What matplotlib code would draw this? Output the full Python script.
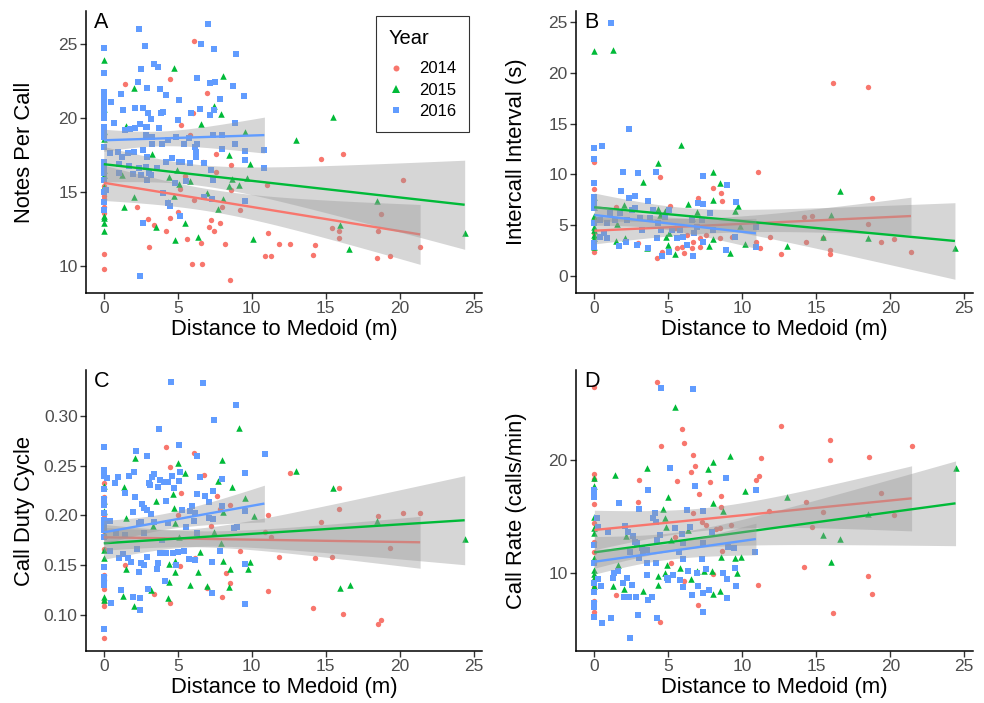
import matplotlib
matplotlib.use('Agg')
import matplotlib.pyplot as plt
from matplotlib.lines import Line2D
import numpy as np

plt.rcParams['font.family'] = ['Liberation Sans', 'DejaVu Sans']

years = ['2014', '2015', '2016']
colors = {'2014': '#F8766D', '2015': '#00BA38', '2016': '#619CFF'}
markers = {'2014': 'o', '2015': '^', '2016': 's'}
msize = {'2014': 15, '2015': 22, '2016': 14}

# ---- panel A: notes per call (distance, value)
a_2014 = [(0, 10.77), (0, 9.8), (0, 14.72), (0, 14.5), (0, 13.95), (0, 13.54), (0, 18.85), (0, 15.4),
          (1.42, 22.3), (4.45, 22.66), (6.09, 25.24), (6.97, 21.7), (6.02, 20.36), (5.21, 19.55),
          (5.84, 18.85), (7.55, 17.58), (6.72, 17.0), (7.6, 16.37), (8.58, 16.82), (5.46, 16.1),
          (5.17, 15.2), (8.6, 15.12), (8.02, 14.0), (9.21, 13.77), (6.09, 14.42), (2.22, 14.0),
          (2.97, 13.14), (3.37, 12.75), (4.45, 13.25), (4.99, 13.61), (4.2, 12.35), (3.03, 11.26),
          (5.64, 11.83), (6.54, 11.56), (7.1, 12.64), (7.24, 13.07), (7.48, 12.37), (7.82, 12.89),
          (8.22, 11.44), (5.96, 10.11), (6.65, 10.09), (8.52, 9.05), (11.0, 15.5), (11.08, 12.2),
          (10.92, 10.68), (11.3, 10.63), (11.84, 11.47), (12.6, 11.44), (14.16, 10.72), (14.27, 11.4),
          (14.67, 17.25), (16.16, 17.58), (15.39, 12.57), (15.9, 12.37), (15.9, 11.85), (18.52, 12.35),
          (18.72, 13.52), (18.49, 10.5), (19.35, 10.68), (20.2, 15.8), (21.37, 11.29)]
a_2015 = [(0, 23.93), (0, 20.63), (0, 19.12), (0, 18.56), (0, 16.48), (0, 16.14), (0, 15.35), (0, 13.36),
          (0, 13.2), (0, 12.91), (0, 12.35), (2.07, 22.05), (1.51, 19.5), (1.35, 13.95), (1.24, 16.14),
          (2.02, 14.63), (3.26, 17.58), (3.55, 12.64), (4.72, 23.4), (4.4, 16.03), (4.36, 14.33),
          (4.72, 14.72), (4.83, 11.74), (4.94, 16.48), (5.1, 15.53), (5.48, 12.91), (5.84, 15.73),
          (6.36, 11.92), (6.54, 19.59), (6.97, 14.94), (7.46, 20.81), (7.91, 20.27), (8.04, 22.87),
          (7.69, 13.86), (8.04, 14.54), (8.45, 17.47), (8.49, 15.4), (8.67, 15.89), (9.15, 15.46),
          (9.51, 19.03), (9.69, 15.91), (9.89, 16.88), (10.11, 11.83), (12.97, 18.49), (15.46, 20.11),
          (15.93, 12.73), (16.58, 11.13), (18.47, 14.4), (24.38, 12.19)]
a_2016 = [(0, 24.72), (0, 23.07), (0, 21.78), (0, 21.56), (0, 21.33), (0, 20.99), (0, 20.65), (0, 20.2),
          (0, 19.98), (0, 19.41), (0, 19.07), (0, 18.74), (0, 18.06), (0, 17.04), (0, 16.7), (0, 16.25),
          (0, 15.8), (0, 15.01), (0, 14.33), (0, 13.77), (2.4, 26.07), (2.52, 23.36), (2.79, 24.88),
          (3.37, 23.7), (3.66, 23.48), (2.29, 22.42), (2.92, 22.05), (3.82, 22.0), (4.18, 21.58),
          (5.06, 21.22), (6.29, 22.75), (6.56, 25.01), (7.03, 26.41), (7.42, 24.67), (8.92, 24.36),
          (7.19, 22.39), (7.53, 22.46), (7.87, 21.33), (8.72, 22.21), (9.44, 21.51), (1.15, 21.65),
          (1.28, 20.56), (0.52, 21.08), (0.67, 19.64), (2.13, 20.72), (2.67, 20.7), (3.01, 20.32),
          (3.19, 19.95), (2.85, 19.41), (3.71, 19.3), (3.89, 20.36), (4.0, 20.4), (4.99, 19.86),
          (5.91, 20.32), (6.52, 20.59), (7.19, 20.2), (7.48, 20.54), (8.88, 19.64), (1.42, 19.19),
          (1.75, 19.23), (2.13, 19.3), (2.43, 19.59), (2.92, 19.41), (2.88, 18.85), (3.26, 18.74),
          (3.26, 18.28), (3.93, 18.28), (4.31, 18.51), (4.9, 18.74), (5.39, 18.28), (5.73, 18.62),
          (6.18, 18.06), (6.29, 18.28), (7.37, 18.85), (7.98, 18.85), (8.88, 18.22), (7.98, 17.88),
          (6.25, 17.72), (6.25, 17.38), (9.51, 17.77), (10.85, 17.83), (0.45, 17.61), (0.97, 17.72),
          (1.24, 17.38), (1.64, 17.61), (2.02, 17.72), (2.65, 17.83), (2.92, 17.38), (4.22, 17.04),
          (4.61, 17.27), (5.06, 17.04), (5.28, 17.04), (5.84, 16.93), (6.74, 16.93), (7.26, 16.48),
          (9.51, 17.16), (1.01, 16.86), (1.69, 16.75), (2.36, 16.59), (2.88, 16.7), (3.6, 16.59),
          (3.03, 16.25), (1.01, 16.3), (1.96, 16.19), (2.54, 16.14), (3.21, 16.14), (2.92, 15.8),
          (4.83, 15.58), (5.57, 15.73), (7.37, 15.8), (10.85, 16.59), (0.18, 15.12), (4.0, 14.9),
          (4.31, 14.22), (4.49, 14.06), (5.12, 13.36), (6.74, 14.67), (7.3, 14.51), (9.57, 14.38),
          (2.65, 12.91), (2.43, 9.3)]

# ---- panel B: intercall interval (s)
b_2014 = [(0, 11.26), (0, 8.54), (0, 5.53), (0, 4.22), (0, 2.42), (1.46, 6.78), (2.97, 3.24), (4.21, 1.77),
          (4.44, 9.79), (4.55, 2.42), (5.11, 6.94), (5.45, 4.71), (5.61, 2.75), (5.9, 2.91), (6.05, 2.26),
          (6.24, 4.06), (6.58, 2.75), (6.69, 3.4), (7.0, 7.73), (7.14, 3.73), (7.52, 4.06), (8.0, 8.71),
          (8.54, 8.15), (8.6, 7.43), (8.49, 3.73), (9.28, 3.9), (10.92, 3.4), (11.06, 10.28), (11.19, 2.82),
          (11.85, 3.83), (12.61, 2.19), (14.17, 5.86), (14.28, 3.34), (14.68, 5.92), (15.43, 3.8),
          (15.92, 2.59), (15.92, 2.19), (16.15, 18.95), (18.51, 18.56), (18.51, 5.11), (18.74, 7.73),
          (19.37, 3.34), (20.25, 3.7), (21.4, 2.36), (7.14, 2.91)]
b_2015 = [(0, 22.16), (1.24, 22.23), (0, 7.82), (0, 6.84), (0, 5.92), (0, 4.88), (0, 4.55), (0, 4.06),
          (0, 3.73), (0, 2.91), (1.46, 3.5), (1.51, 5.1), (2.03, 7.0), (2.07, 3.76), (3.27, 9.23),
          (3.54, 2.82), (4.32, 11.16), (4.32, 6.58), (4.44, 6.02), (4.77, 6.42), (4.84, 3.9), (5.0, 3.08),
          (5.07, 4.22), (5.45, 2.16), (5.83, 12.9), (6.35, 7.07), (6.58, 5.7), (6.96, 6.28), (7.77, 2.98),
          (8.0, 10.28), (8.0, 7.5), (8.04, 3.67), (8.49, 9.2), (9.17, 2.32), (9.5, 6.45), (9.68, 6.94),
          (9.84, 4.98), (10.18, 3.18), (13.0, 3.01), (15.47, 3.9), (15.99, 6.02), (16.6, 8.38),
          (18.51, 3.76), (24.37, 2.82)]
b_2016 = [(1.13, 24.84), (0, 12.57), (0, 11.56), (0, 9.2), (0, 7.82), (0, 7.33), (0, 6.68), (0, 5.2),
          (0, 2.91), (0, 3.24), (0.5, 12.83), (2.36, 14.44), (1.96, 10.21), (2.97, 10.18), (4.17, 10.28),
          (1.8, 8.41), (2.36, 7.66), (2.75, 7.89), (3.65, 7.4), (5.02, 6.51), (7.36, 9.85), (8.94, 8.97),
          (9.57, 7.33), (7.03, 7.17), (7.32, 7.1), (0.38, 5.53), (0.83, 5.2), (1.06, 6.19), (1.4, 5.53),
          (1.73, 6.19), (2.18, 5.53), (2.52, 6.51), (2.75, 6.68), (3.09, 5.7), (3.2, 4.55), (3.76, 5.7),
          (3.99, 6.51), (4.32, 5.2), (4.21, 3.73), (4.48, 4.55), (4.77, 5.86), (5.23, 4.55), (5.56, 3.73),
          (5.79, 4.55), (6.01, 3.9), (6.24, 3.08), (6.58, 5.53), (6.73, 4.22), (6.91, 4.88), (7.25, 5.53),
          (7.36, 3.4), (7.82, 6.25), (8.04, 4.55), (8.9, 2.59), (9.5, 3.9), (10.92, 4.88), (10.92, 2.85),
          (0.65, 4.22), (0.83, 3.73), (1.67, 2.98), (2.14, 3.37), (2.86, 3.08), (3.65, 2.75), (4.55, 2.0),
          (5.07, 2.42), (6.69, 2.03), (0.38, 3.83)]

# ---- panel C: call duty cycle
c_2014 = [(0, 0.0776), (0, 0.1093), (0, 0.1137), (0, 0.126), (0, 0.1354), (0, 0.1404), (0, 0.1664),
          (0, 0.1805), (0, 0.1955), (0, 0.2005), (0, 0.2122), (0, 0.2189), (0, 0.2322), (1.46, 0.1504),
          (3.42, 0.121), (4.22, 0.269), (4.45, 0.2489), (4.45, 0.1127), (5.01, 0.2005), (5.24, 0.2222),
          (5.17, 0.1494), (6.07, 0.2623), (6.18, 0.1571), (6.79, 0.2406), (6.97, 0.1277), (7.26, 0.1895),
          (7.64, 0.2199), (7.82, 0.2062), (8.02, 0.118), (8.27, 0.1427), (8.54, 0.1327), (8.54, 0.2105),
          (9.21, 0.1648), (10.9, 0.1838), (11.08, 0.1244), (11.08, 0.2005), (11.3, 0.1781), (11.84, 0.1588),
          (12.58, 0.2422), (14.27, 0.1578), (14.16, 0.107), (14.67, 0.1932), (15.42, 0.1588), (15.91, 0.2272),
          (15.91, 0.2062), (16.16, 0.1013), (18.52, 0.1998), (18.52, 0.091), (18.72, 0.0953), (19.35, 0.1678),
          (20.2, 0.2022), (21.37, 0.2028)]
c_2015 = [(0, 0.2296), (0, 0.2149), (0, 0.2048), (0, 0.1805), (0, 0.1654), (0, 0.1571), (0, 0.1187),
          (0, 0.1154), (1.28, 0.1194), (1.39, 0.2289), (1.51, 0.1972), (1.53, 0.1464), (2.02, 0.1097),
          (2.09, 0.2579), (3.21, 0.1254), (3.3, 0.1898), (3.55, 0.2149), (4.34, 0.117), (4.38, 0.1511),
          (4.38, 0.1337), (4.65, 0.2215), (4.76, 0.2078), (4.81, 0.1922), (4.81, 0.1548), (4.83, 0.1437),
          (5.01, 0.2529), (5.08, 0.1788), (5.46, 0.2429), (5.84, 0.13), (6.36, 0.1437), (6.52, 0.1638),
          (6.97, 0.1294), (7.46, 0.1838), (7.75, 0.2346), (7.91, 0.1721), (8.04, 0.2035), (7.99, 0.2556),
          (8.04, 0.1544), (8.47, 0.1287), (8.54, 0.1461), (8.67, 0.2282), (9.15, 0.2873), (9.51, 0.2179),
          (9.71, 0.1464), (9.89, 0.1531), (10.16, 0.1995), (12.97, 0.2449), (15.46, 0.2279), (15.96, 0.1277),
          (16.61, 0.1304), (18.47, 0.1948), (24.38, 0.1768)]
c_2016 = [(4.52, 0.334), (6.7, 0.333), (8.9, 0.3107), (7.42, 0.2957), (3.71, 0.2866), (0, 0.2683),
          (2.18, 0.2649), (5.06, 0.2706), (2.92, 0.2596), (6.29, 0.2596), (10.9, 0.2613), (0, 0.2456),
          (0, 0.243), (0, 0.2396), (0, 0.2262), (0, 0.2162), (0, 0.2105), (0, 0.2022), (0, 0.1955),
          (0, 0.1915), (0, 0.1855), (0, 0.1788), (0, 0.1487), (0, 0.1387), (0, 0.1337), (0, 0.1304),
          (0, 0.086), (0.22, 0.2379), (0.74, 0.2329), (0.97, 0.2382), (1.69, 0.2399), (2.02, 0.2439),
          (1.42, 0.2222), (2.13, 0.2189), (1.96, 0.2032), (2.58, 0.2115), (2.7, 0.2072), (2.92, 0.2055),
          (3.21, 0.2012), (3.03, 0.2322), (3.15, 0.2305), (3.26, 0.2389), (3.37, 0.2412), (3.66, 0.2289),
          (3.82, 0.2356), (4.04, 0.2339), (4.31, 0.2339), (4.2, 0.2145), (4.72, 0.2272), (5.12, 0.2432),
          (5.08, 0.2349), (4.61, 0.2396), (6.52, 0.2389), (6.29, 0.2212), (6.85, 0.2195), (7.08, 0.2139),
          (5.96, 0.2098), (5.84, 0.2042), (6.18, 0.2022), (5.28, 0.2055), (7.98, 0.2369), (7.35, 0.2245),
          (8.02, 0.2098), (9.51, 0.2422), (9.51, 0.2045), (7.08, 0.1972), (7.37, 0.1962), (8.83, 0.1878),
          (8.99, 0.1888), (0.45, 0.1945), (0.85, 0.1821), (1.46, 0.1805), (2.36, 0.1922), (2.52, 0.1932),
          (2.7, 0.1821), (3.37, 0.1938), (4.34, 0.1922), (5.57, 0.1888), (6.07, 0.1945), (6.29, 0.1821),
          (3.93, 0.1755), (2.25, 0.1664), (0.45, 0.1644), (1.01, 0.1571), (1.3, 0.1614), (1.64, 0.1571),
          (1.84, 0.1538), (2.92, 0.1581), (3.82, 0.1621), (4.22, 0.1628), (4.67, 0.1621), (5.01, 0.1631),
          (5.39, 0.1644), (5.78, 0.1564), (6.18, 0.1554), (3.66, 0.1528), (2.54, 0.1521), (2.74, 0.1504),
          (2.4, 0.1431), (3.6, 0.1461), (4.88, 0.1504), (7.3, 0.1531), (9.51, 0.1511), (1.17, 0.1254),
          (2.97, 0.126), (4.16, 0.1344), (1.96, 0.118), (2.47, 0.117), (0.52, 0.1127), (2.43, 0.1053),
          (7.3, 0.122), (9.55, 0.1114), (7.87, 0.1644)]

# ---- panel D: call rate (calls/min)
d_2014 = [(0, 26.4), (0, 18.7), (0, 18.26), (0, 16.05), (0, 14.42), (0, 12.74), (0, 11.86), (0, 10.83),
          (0, 8.76), (0, 7.52), (0, 6.55), (1.46, 8.02), (3.04, 18.2), (2.93, 16.28), (4.21, 26.9),
          (4.48, 21.21), (4.44, 5.66), (5.16, 10.83), (5.45, 13.19), (5.61, 18.11), (5.92, 22.71),
          (6.06, 21.5), (6.06, 9.26), (6.53, 18.88), (6.64, 20.38), (6.69, 15.25), (6.8, 19.44), (7.0, 7.14),
          (7.09, 16.93), (7.25, 14.45), (7.52, 14.22), (7.82, 17.99), (8.22, 13.86), (8.51, 13.92),
          (8.54, 16.78), (8.56, 15.84), (8.6, 11.95), (9.21, 14.22), (10.9, 18.2), (11.1, 18.53),
          (11.06, 8.91), (11.28, 20.18), (11.82, 15.46), (12.59, 23.01), (14.17, 10.5), (14.28, 16.28),
          (14.68, 14.07), (15.43, 15.4), (15.92, 21.74), (15.95, 19.97), (16.15, 6.4), (18.54, 20.21),
          (18.51, 9.73), (18.74, 8.14), (19.37, 17.02), (20.25, 15.1), (21.44, 21.21), (8.04, 9.85)]
d_2015 = [(0, 18.35), (0, 17.67), (0, 14.96), (0, 13.92), (0, 13.54), (0, 11.27), (0, 10.24), (0, 9.88),
          (0, 9.5), (0, 8.82), (1.4, 18.64), (1.28, 8.82), (1.58, 10.68), (2.03, 8.53), (2.12, 13.24),
          (3.27, 8.41), (3.54, 19.23), (4.32, 9.71), (4.32, 8.91), (4.66, 15.6), (4.77, 14.81), (4.84, 14.07),
          (4.89, 10.68), (4.77, 9.94), (5.0, 16.73), (5.16, 12.89), (5.45, 24.63), (5.79, 10.38),
          (6.35, 13.78), (6.51, 9.41), (6.96, 10.15), (7.43, 10.15), (7.7, 19.14), (7.93, 10.15),
          (8.0, 19.76), (8.04, 16.14), (8.0, 8.08), (8.49, 8.38), (8.54, 11.42), (8.67, 15.49), (9.17, 20.35),
          (9.5, 11.27), (9.66, 10.0), (9.89, 11.42), (10.16, 17.23), (13.0, 16.73), (15.47, 13.33),
          (15.97, 10.97), (16.6, 12.95), (18.51, 15.19), (24.41, 19.29)]
d_2016 = [(0, 17.32), (0, 17.02), (0, 16.73), (0, 12.45), (0, 10.83), (0, 9.06), (0, 8.32), (0, 7.29),
          (0, 6.99), (0, 6.11), (0.2, 14.87), (0.27, 14.07), (0.95, 13.57), (0.45, 8.82), (0.5, 5.52),
          (0.27, 9.41), (1.13, 6.02), (1.28, 9.5), (1.33, 9.94), (1.67, 16.14), (1.62, 10.18), (2.07, 14.16),
          (2.3, 13.63), (2.18, 9.5), (1.96, 9.06), (2.0, 7.82), (2.36, 7.88), (2.41, 4.25), (2.59, 13.27),
          (2.75, 12.74), (2.9, 12.6), (2.41, 11.86), (2.52, 8.91), (2.79, 7.82), (3.02, 15.6), (3.04, 11.33),
          (2.97, 6.25), (3.2, 12.21), (3.31, 11.86), (3.58, 12.0), (3.54, 10.83), (3.65, 17.32), (3.58, 9.79),
          (3.65, 7.58), (3.87, 7.88), (3.94, 14.87), (4.1, 15.25), (4.17, 14.51), (4.21, 12.89), (4.17, 10.83),
          (4.44, 13.33), (4.21, 5.96), (4.48, 26.37), (5.11, 19.29), (4.89, 9.5), (5.0, 9.35), (5.34, 9.79),
          (5.45, 13.92), (5.74, 11.86), (5.79, 9.35), (5.9, 13.39), (5.97, 12.6), (6.01, 8.7), (6.01, 11.18),
          (6.24, 15.55), (6.35, 10.15), (6.46, 14.07), (6.58, 8.02), (6.69, 26.25), (6.8, 17.67), (6.91, 9.94),
          (7.03, 8.82), (7.3, 11.18), (7.36, 15.43), (7.36, 12.6), (7.52, 10.29), (7.36, 6.55), (7.32, 8.23),
          (7.97, 13.63), (7.77, 8.47), (8.72, 10.0), (8.9, 18.35), (8.94, 9.44), (8.94, 7.79), (9.01, 12.3),
          (9.46, 12.21), (9.5, 10.38), (9.57, 8.82), (10.9, 17.32), (10.88, 11.8)]

# ---- linear fits: [x_start, x_end, y_start, y_end, ci_start, ci_min, ci_end]
a_fits = {'2014': [0, 21.37, 15.62, 12.12, 1.2, 0.75, 2.03],
          '2015': [0, 24.38, 16.88, 14.13, 1.2, 0.7, 3.02],
          '2016': [0, 10.85, 18.50, 18.85, 0.75, 0.5, 1.22]}
b_fits = {'2014': [0, 21.40, 4.48, 5.92, 1.3, 0.75, 1.85],
          '2015': [0, 24.37, 6.78, 3.47, 1.4, 0.8, 3.76],
          '2016': [0, 10.92, 6.02, 4.22, 1.0, 0.6, 1.47]}
c_fits = {'2014': [0, 21.37, 0.1781, 0.1731, 0.013, 0.008, 0.026],
          '2015': [0, 24.38, 0.1721, 0.1952, 0.016, 0.009, 0.0446],
          '2016': [0, 10.85, 0.1831, 0.2119, 0.012, 0.008, 0.0184]}
d_fits = {'2014': [0, 21.44, 13.78, 16.58, 1.75, 1.0, 2.88],
          '2015': [0, 24.41, 11.80, 16.14, 1.4, 0.8, 3.75],
          '2016': [0, 10.92, 10.97, 12.98, 1.1, 0.7, 1.4]}

panels = [
    ('A', 'Notes Per Call', {'2014': a_2014, '2015': a_2015, '2016': a_2016}, a_fits,
     [10, 15, 20, 25], ['10', '15', '20', '25'], (8.15, 27.26), [86, 11, 482, 293]),
    ('B', 'Intercall Interval (s)', {'2014': b_2014, '2015': b_2015, '2016': b_2016}, b_fits,
     [0, 5, 10, 15, 20, 25], ['0', '5', '10', '15', '20', '25'], (-1.64, 26.06), [576, 11, 973, 293]),
    ('C', 'Call Duty Cycle', {'2014': c_2014, '2015': c_2015, '2016': c_2016}, c_fits,
     [0.10, 0.15, 0.20, 0.25, 0.30], ['0.10', '0.15', '0.20', '0.25', '0.30'], (0.0642, 0.3457),
     [86, 370, 482, 651]),
    ('D', 'Call Rate (calls/min)', {'2014': d_2014, '2015': d_2015, '2016': d_2016}, d_fits,
     [10, 20], ['10', '20'], (3.07, 27.94), [576, 370, 973, 651]),
]
x_ticks = [0, 5, 10, 15, 20, 25]

W, H = 984, 703
fig = plt.figure(figsize=(W / 100, H / 100), dpi=100)

for label, ylab, pts, fits, yt, ytl, ylim, box in panels:
    l, t, r, b = box
    ax = fig.add_axes([l / W, 1 - b / H, (r - l) / W, (b - t) / H])
    xl = (-1.2, 25.55) if label in 'AC' else (-1.24, 25.59)

    for yr in years:
        arr = np.array(pts[yr])
        ax.scatter(arr[:, 0], arr[:, 1], s=msize[yr], marker=markers[yr],
                   color=colors[yr], linewidths=0, zorder=2)

    for yr in years:
        x0, x1, y0, y1, h0, hm, h1 = fits[yr]
        # confidence band shaped as a regression CI (narrowest near the mean)
        rr = np.sqrt((h0 ** 2 - hm ** 2) / (h1 ** 2 - hm ** 2))
        xc = (x0 + rr * x1) / (1 + rr)
        k = (h1 ** 2 - hm ** 2) / (x1 - xc) ** 2
        xs = np.linspace(x0, x1, 80)
        ys = y0 + (y1 - y0) * (xs - x0) / (x1 - x0)
        hw = np.sqrt(hm ** 2 + k * (xs - xc) ** 2)
        ax.fill_between(xs, ys - hw, ys + hw, color='#999999', alpha=0.4,
                        linewidth=0, zorder=3)
        ax.plot([x0, x1], [y0, y1], color=colors[yr], lw=1.7, zorder=3,
                solid_capstyle='butt')

    ax.set_xlim(*xl)
    ax.set_ylim(*ylim)
    ax.set_xticks(x_ticks)
    ax.set_yticks(yt)
    ax.set_yticklabels(ytl)
    for s in ['top', 'right']:
        ax.spines[s].set_visible(False)
    for s in ['left', 'bottom']:
        ax.spines[s].set_linewidth(1.1)
        ax.spines[s].set_color('black')
    ax.tick_params(axis='both', length=4, width=1, color='#333333',
                   labelsize=12.5, labelcolor='#4D4D4D', pad=2)
    ax.set_xlabel('Distance to Medoid (m)', fontsize=15.8, labelpad=2)
    ax.set_ylabel(ylab, fontsize=15.8)
    # y titles aligned per column, as in the original layout
    ax.yaxis.set_label_coords(-0.129 if label in 'AC' else -0.123, 0.5)
    ax.text(0.02, 0.995, label, transform=ax.transAxes, ha='left', va='top',
            fontsize=15.5)

    if label == 'A':
        handles = [Line2D([], [], linestyle='none', marker=markers[yr], color=colors[yr],
                          markersize={'2014': 4.3, '2015': 5.5, '2016': 4.3}[yr], markeredgewidth=0)
                   for yr in years]
        leg = ax.legend(handles, years, title='Year', loc='upper right',
                        bbox_to_anchor=(0.967, 0.982), borderaxespad=0, fontsize=12,
                        title_fontsize=14.5, frameon=True, fancybox=False,
                        labelspacing=0.38, handletextpad=0.87, borderpad=0.75,
                        handlelength=1.0)
        leg.get_frame().set_edgecolor('black')
        leg.get_frame().set_linewidth(0.8)
        leg._legend_box.align = 'left'
        leg._legend_box.sep = 10

fig.savefig('out.png', dpi=100)
